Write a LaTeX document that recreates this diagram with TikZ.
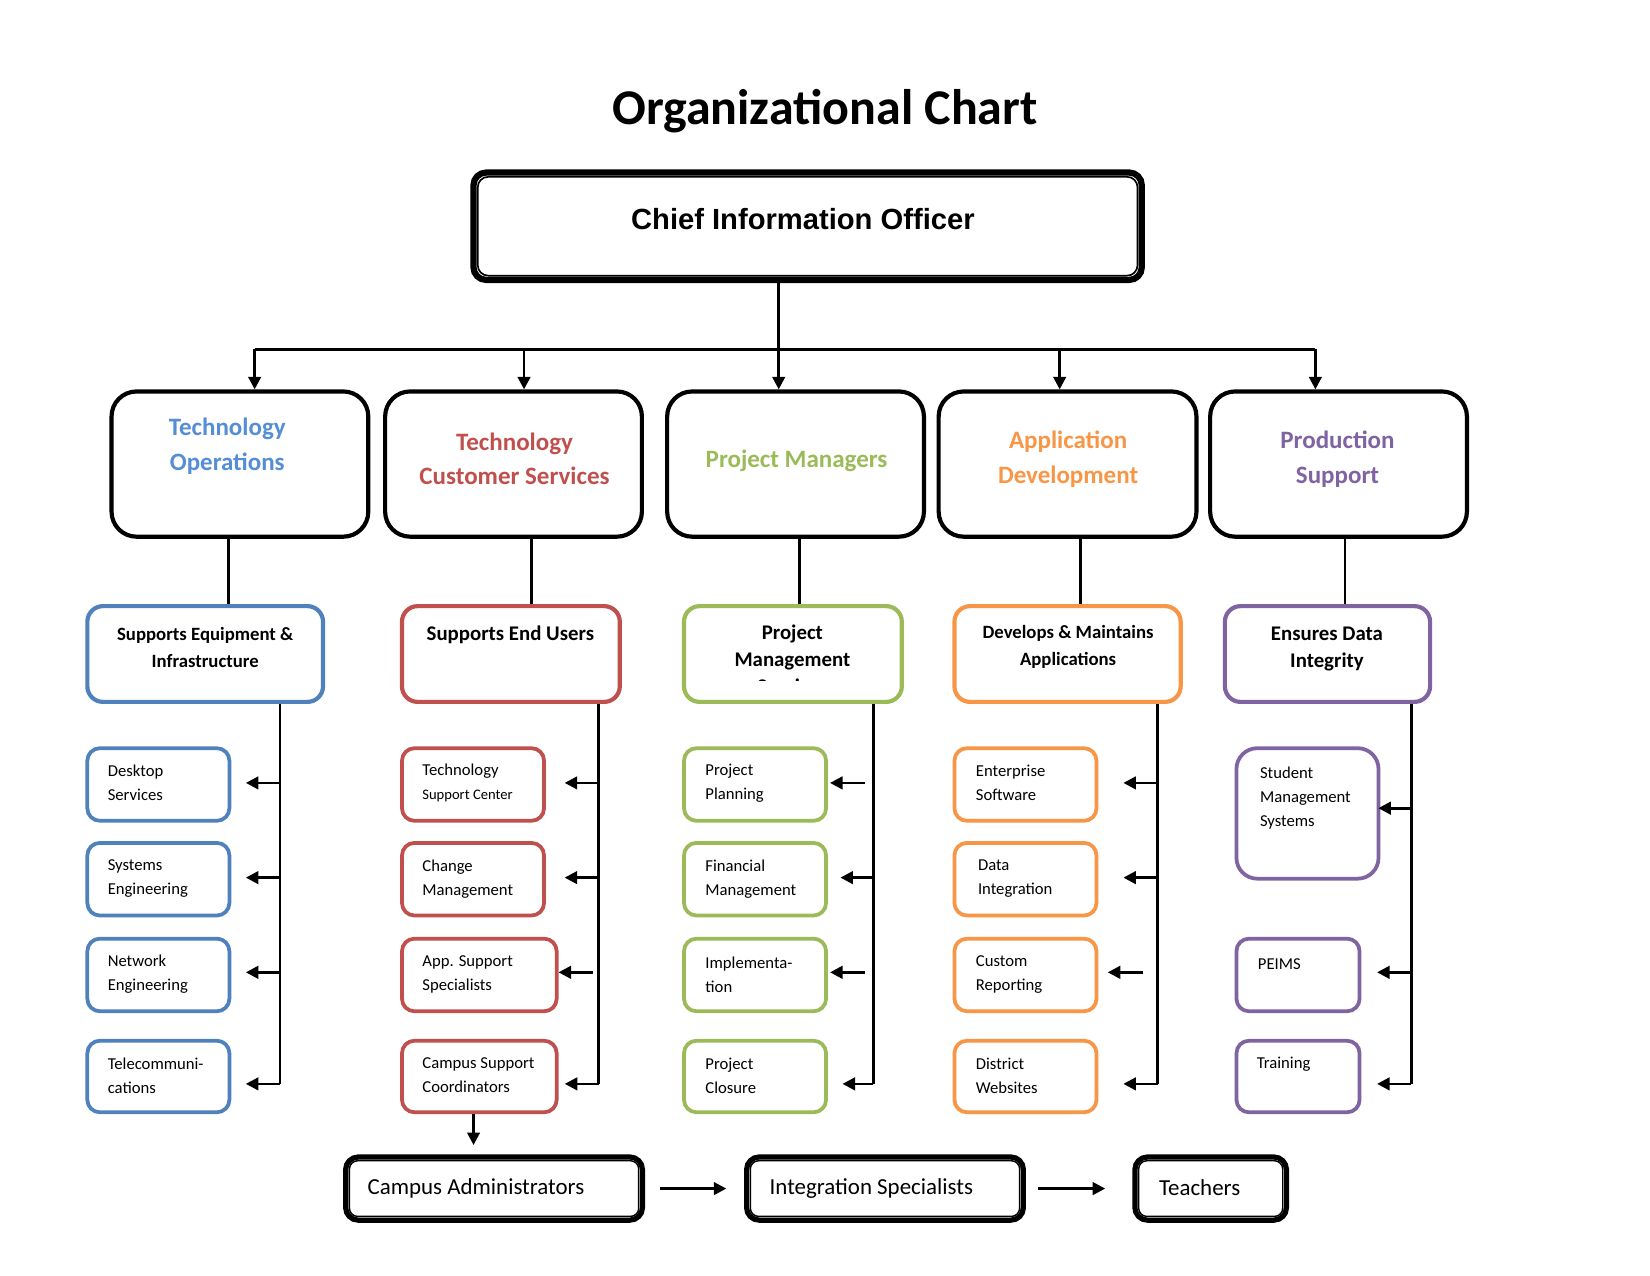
\documentclass[tikz,border=0pt]{standalone}
\usepackage{fontspec}
\setmainfont{Carlito}
\newfontfamily\arialfont{Liberation Sans}
\usetikzlibrary{arrows.meta,fit,calc}
\definecolor{cblue}{HTML}{4F81BD}
\definecolor{tblue}{HTML}{558ED5}
\definecolor{cred}{HTML}{C0504D}
\definecolor{cgreen}{HTML}{9BBB59}
\definecolor{corange}{HTML}{F79646}
\definecolor{cpurple}{HTML}{8064A2}
\begin{document}
\begin{tikzpicture}[x=0.5051pt,y=-0.5051pt,
 lone/.style={draw=black,line width=2pt,rounded corners=12pt,inner sep=0pt},
 ltwo/.style={draw=#1,line width=2pt,rounded corners=7.5pt,inner sep=0pt},
 lthree/.style={draw=#1,line width=1.8pt,rounded corners=6pt,inner sep=0pt},
 onetext/.style={font=\fontsize{12}{16.7}\selectfont\bfseries,align=center,text=#1,inner sep=0pt},
 twotext/.style={font=\fontsize{10}{13.1}\selectfont\bfseries,align=center,inner sep=0pt},
 twosmall/.style={font=\fontsize{9}{13.1}\selectfont\bfseries,align=center,inner sep=0pt},
 threetext/.style={font=\fontsize{8}{11.5}\selectfont,align=left,anchor=west,inner sep=0pt},
 dbl/.style={draw=black,line width=#1,rounded corners=6pt,inner sep=0pt},
 conn/.style={line width=1.3pt},
 arr/.style={line width=1.3pt,-{Triangle[length=6pt,width=6pt]}},
]
\useasboundingbox[fill=white] (0,0) rectangle (1568,1212);

% title
\node[font=\fontsize{24}{28}\selectfont\bfseries,anchor=base] (title) at (784,118) {Organizational Chart};

% CIO
\node[dbl=3pt,fit={(450,164) (1085,266)}] (cio) {};
\draw[line width=0.8pt,rounded corners=5pt] ($(cio.north west)+(7,7)$) rectangle ($(cio.south east)+(-7,-7)$);
\node[font=\arialfont\fontsize{14}{16}\selectfont\bfseries,anchor=base] (ciot) at (763,218) {Chief Information Officer};

% level 1
\node[lone,fit={(106,372) (350,510)}] (to) {};
\node[lone,fit={(366,372) (610,510)}] (tcs) {};
\node[lone,fit={(634,372) (878,510)}] (pm) {};
\node[lone,fit={(892,372) (1137,510)}] (ad) {};
\node[lone,fit={(1150,372) (1394,510)}] (ps) {};
\node[onetext=tblue] (tot) at (216,424) {Technology\\Operations};
\node[onetext=cred] (tcst) at (489,436) {Technology\\Customer Services};
\node[onetext=cgreen] (pmt) at (757,438) {Project Managers};
\node[onetext=corange] (adt) at (1015,436) {Application\\Development};
\node[onetext=cpurple] (pst) at (1271,436) {Production\\Support};

% bar
\coordinate (b1) at (242,332);
\coordinate (b2) at (498,332);
\coordinate (b3) at (740,332);
\coordinate (b4) at (1007,332);
\coordinate (b5) at (1250,332);
\draw[conn] (cio.south -| b3) -- (b3);
\draw[conn] (b1) -- (b5);
\draw[arr] (b1) -- (to.north -| b1);
\draw[arr] (b2) -- (tcs.north -| b2);
\draw[arr] (b3) -- (pm.north -| b3);
\draw[arr] (b4) -- (ad.north -| b4);
\draw[arr] (b5) -- (ps.north -| b5);

% level 2
\node[ltwo=cblue,fit={(83,576) (307,667)}] (s1) {};
\node[ltwo=cred,fit={(382,576) (589,667)}] (s2) {};
\node[ltwo=cgreen,fit={(650,576) (857,667)}] (s3) {};
\node[ltwo=corange,fit={(907,576) (1122,667)}] (s4) {};
\node[ltwo=cpurple,fit={(1164,576) (1359,667)}] (s5) {};
\node[twosmall] (s1t) at (195,615) {Supports Equipment \&\\Infrastructure};
\node[twotext] (s2t) at (485,603) {Supports End Users};
\begin{scope}
\clip (650,576) rectangle (857,647);
\node[twotext,anchor=north] (s3t) at (753,593) {Project\\Management\\Services};
\end{scope}
\node[twosmall] (s4t) at (1015,615) {Develops \& Maintains\\Applications};
\node[twotext] (s5t) at (1261,617) {Ensures Data\\Integrity};

\coordinate (u1) at (217,0);
\coordinate (u2) at (505,0);
\coordinate (u3) at (760,0);
\coordinate (u4) at (1027,0);
\coordinate (u5) at (1278,0);
\draw[conn] (to.south -| u1) -- (s1.north -| u1);
\draw[conn] (tcs.south -| u2) -- (s2.north -| u2);
\draw[conn] (pm.south -| u3) -- (s3.north -| u3);
\draw[conn] (ad.south -| u4) -- (s4.north -| u4);
\draw[conn] (ps.south -| u5) -- (s5.north -| u5);

% vertical drop lines
\coordinate (v1) at (266,1030);
\coordinate (v2) at (569,1030);
\coordinate (v3) at (830,1030);
\coordinate (v4) at (1100,1030);
\coordinate (v5) at (1341,1030);
\draw[conn] (s1.south -| v1) -- (v1);
\draw[conn] (s2.south -| v2) -- (v2);
\draw[conn] (s3.south -| v3) -- (v3);
\draw[conn] (s4.south -| v4) -- (v4);
\draw[conn] (s5.south -| v5) -- (v5);

\coordinate (ra) at (0,744);
\coordinate (rb) at (0,834);
\coordinate (rc) at (0,924);
\coordinate (rd) at (0,1030);
\coordinate (rs) at (0,768);

% level 3 blue
\node[lthree=cblue,fit={(83,711) (218,780)}] (a1) {};
\node[lthree=cblue,fit={(83,801) (218,870)}] (a2) {};
\node[lthree=cblue,fit={(83,892) (218,961)}] (a3) {};
\node[lthree=cblue,fit={(83,989) (218,1057)}] (a4) {};
\node[threetext] (a1t) at (102,744) {Desktop\\Services};
\node[threetext] (a2t) at (102,835) {Systems\\Engineering};
\node[threetext] (a3t) at (102,926) {Network\\Engineering};
\node[threetext] (a4t) at (102,1022) {Telecommuni-\\cations};
\draw[arr,shorten >=7pt] (v1 |- ra) -- (a1.east |- ra);
\draw[arr,shorten >=7pt] (v1 |- rb) -- (a2.east |- rb);
\draw[arr,shorten >=7pt] (v1 |- rc) -- (a3.east |- rc);
\draw[arr,shorten >=7pt] (v1 |- rd) -- (a4.east |- rd);

% level 3 red
\node[lthree=cred,fit={(382,711) (517,780)}] (c1) {};
\node[lthree=cred,fit={(382,801) (517,870)}] (c2) {};
\node[lthree=cred,fit={(382,892) (529,961)}] (c3) {};
\node[lthree=cred,fit={(382,989) (529,1057)}] (c4) {};
\node[threetext] (c1t) at (401,744) {Technology\\{\fontsize{7}{9}\selectfont Support Center}};
\node[threetext] (c2t) at (401,835) {Change\\Management};
\node[threetext] (c3t) at (401,926) {App. Support\\Specialists};
\node[threetext] (c4t) at (401,1022) {Campus Support\\Coordinators};
\draw[arr,shorten >=9pt] (v2 |- ra) -- (c1.east |- ra);
\draw[arr,shorten >=9pt] (v2 |- rb) -- (c2.east |- rb);
\draw[arr,shorten <=3pt,shorten >=0pt] (v2 |- rc) -- (c3.east |- rc);
\draw[arr,shorten >=3pt] (v2 |- rd) -- (c4.east |- rd);

% level 3 green
\node[lthree=cgreen,fit={(650,711) (785,780)}] (g1) {};
\node[lthree=cgreen,fit={(650,801) (785,870)}] (g2) {};
\node[lthree=cgreen,fit={(650,892) (785,961)}] (g3) {};
\node[lthree=cgreen,fit={(650,989) (785,1057)}] (g4) {};
\node[threetext] (g1t) at (670,744) {Project\\Planning};
\node[threetext] (g2t) at (670,835) {Financial\\Management};
\node[threetext] (g3t) at (670,926) {Implementa-\\tion};
\node[threetext] (g4t) at (670,1022) {Project\\Closure};
\draw[arr,shorten <=4pt,shorten >=1pt] (v3 |- ra) -- (g1.east |- ra);
\draw[arr,shorten >=6pt] (v3 |- rb) -- (g2.east |- rb);
\draw[arr,shorten <=4pt,shorten >=1pt] (v3 |- rc) -- (g3.east |- rc);
\draw[arr,shorten >=7pt] (v3 |- rd) -- (g4.east |- rd);

% level 3 orange
\node[lthree=corange,fit={(907,711) (1042,780)}] (o1) {};
\node[lthree=corange,fit={(907,801) (1042,870)}] (o2) {};
\node[lthree=corange,fit={(907,892) (1042,961)}] (o3) {};
\node[lthree=corange,fit={(907,989) (1042,1057)}] (o4) {};
\node[threetext] (o1t) at (927,744) {Enterprise\\Software};
\node[threetext] (o2t) at (929,835) {Data\\Integration};
\node[threetext] (o3t) at (927,926) {Custom\\Reporting};
\node[threetext] (o4t) at (927,1022) {District\\Websites};
\draw[arr,shorten >=12pt] (v4 |- ra) -- (o1.east |- ra);
\draw[arr,shorten >=12pt] (v4 |- rb) -- (o2.east |- rb);
\draw[arr,shorten <=7pt,shorten >=4.5pt] (v4 |- rc) -- (o3.east |- rc);
\draw[arr,shorten >=12pt] (v4 |- rd) -- (o4.east |- rd);

% level 3 purple
\node[lthree=cpurple,rounded corners=10pt,fit={(1175,711) (1310,835)}] (p1) {};
\node[lthree=cpurple,fit={(1175,892) (1292,961)}] (p2) {};
\node[lthree=cpurple,fit={(1175,989) (1292,1057)}] (p3) {};
\node[threetext] (p1t) at (1197,758.5) {Student\\Management\\Systems};
\node[threetext] (p2t) at (1195,916) {PEIMS};
\node[threetext] (p3t) at (1194,1011) {Training};
\draw[arr,shorten >=-1pt] (v5 |- rs) -- (p1.east |- rs);
\draw[arr,shorten >=7.5pt] (v5 |- rc) -- (p2.east |- rc);
\draw[arr,shorten >=7.5pt] (v5 |- rd) -- (p3.east |- rd);

% bottom boxes
\node[dbl=2.5pt,fit={(328.5,1099.5) (610.5,1159.5)}] (ca) {};
\draw[line width=0.7pt,rounded corners=4pt] ($(ca.north west)+(6,6)$) rectangle ($(ca.south east)+(-6,-6)$);
\node[dbl=2.5pt,fit={(709.5,1099.5) (972.5,1159.5)}] (is) {};
\draw[line width=0.7pt,rounded corners=4pt] ($(is.north west)+(6,6)$) rectangle ($(is.south east)+(-6,-6)$);
\node[dbl=2.5pt,fit={(1078.5,1099.5) (1222.5,1159.5)}] (te) {};
\draw[line width=0.7pt,rounded corners=4pt] ($(te.north west)+(6,6)$) rectangle ($(te.south east)+(-6,-6)$);
\node[font=\fontsize{11}{13}\selectfont,anchor=west,inner sep=0pt] (cat) at (349,1129) {Campus Administrators};
\node[font=\fontsize{11}{13}\selectfont,anchor=west,inner sep=0pt] (ist) at (731,1129) {Integration Specialists};
\node[font=\fontsize{11}{13}\selectfont,anchor=west,inner sep=0pt] (tet) at (1101,1129) {Teachers};

\coordinate (cx) at (450,0);
\draw[arr,shorten >=4.5pt] (c4.south -| cx) -- (ca.north -| cx);
\draw[arr,shorten <=7pt,shorten >=8.5pt] (ca.east) -- (is.west);
\draw[arr,shorten <=6pt,shorten >=13pt] (is.east) -- (te.west);
\end{tikzpicture}
\end{document}
